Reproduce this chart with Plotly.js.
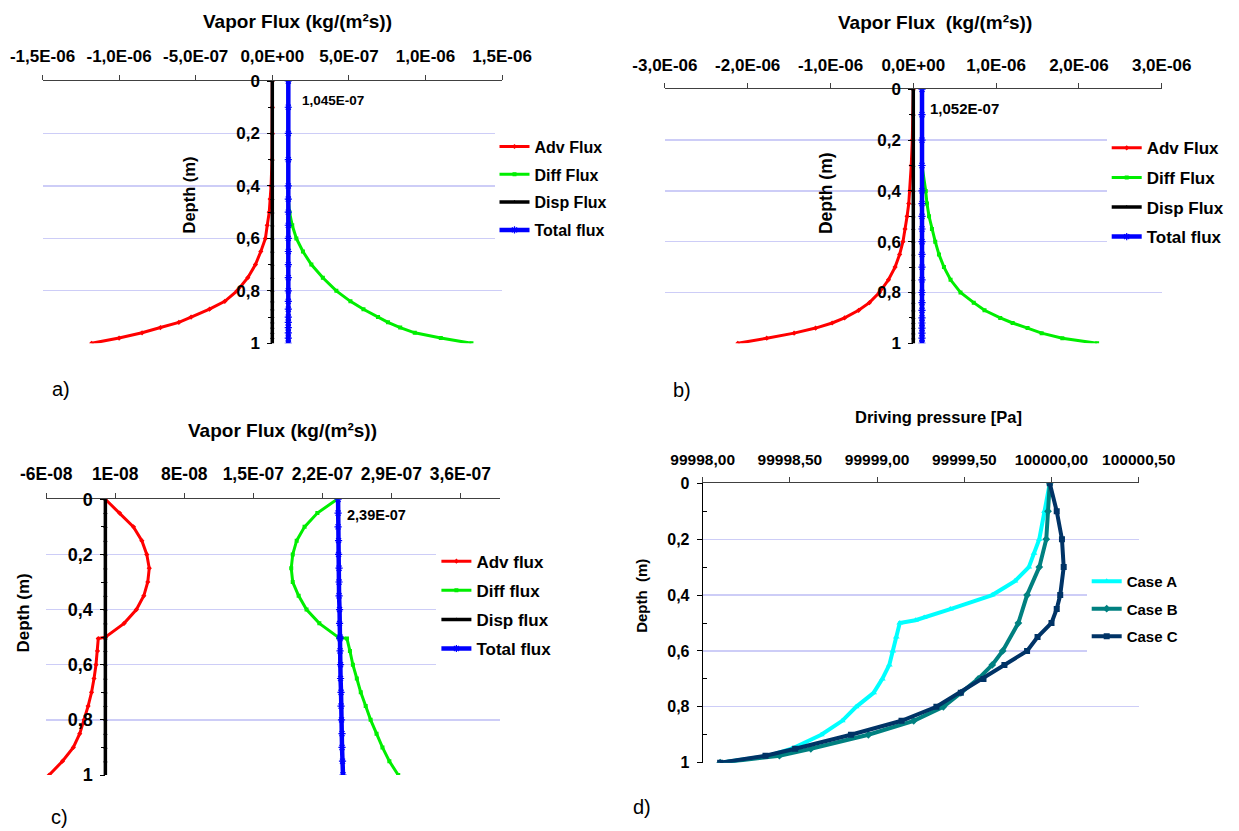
<!DOCTYPE html>
<html><head><meta charset="utf-8">
<script src="https://cdn.plot.ly/plotly-3.0.1.min.js"></script>
<style>html,body{margin:0;padding:0;background:#fff}</style>
</head><body>
<div id="chart" style="width:1239px;height:831px"></div>
<script>
// ---------- DATA ----------
// Panel a)
const depthA = [0, 0.1, 0.2, 0.3, 0.4, 0.45, 0.5, 0.55, 0.6, 0.65, 0.7, 0.75, 0.8, 0.84, 0.87, 0.9, 0.92, 0.94, 0.96, 0.98, 1.0];
const advA   = [0, 0, 0, -2e-9, -8e-9, -1.4e-8, -2e-8, -3.3e-8, -4.5e-8, -7.5e-8, -1.1e-7, -1.6e-7, -2.3e-7, -3.1e-7, -4.1e-7, -5.3e-7, -6.1e-7, -7.3e-7, -8.5e-7, -1.0e-6, -1.18e-6];
const diffA  = [1.045e-7, 1.045e-7, 1.045e-7, 1.045e-7, 1.045e-7, 1.045e-7, 1.12e-7, 1.3e-7, 1.57e-7, 2.0e-7, 2.55e-7, 3.3e-7, 4.18e-7, 5.1e-7, 5.95e-7, 6.9e-7, 7.55e-7, 8.35e-7, 9.3e-7, 1.10e-6, 1.30e-6];
const dispA  = [0, 0, 0, 0, 0, 0, 0, 0, 0, 0, 0, 0, 0, 0, 0, 0, 0, 0, 0, 0, 0];
const totalA = [1.045e-7, 1.045e-7, 1.045e-7, 1.045e-7, 1.045e-7, 1.045e-7, 1.045e-7, 1.045e-7, 1.045e-7, 1.045e-7, 1.045e-7, 1.045e-7, 1.045e-7, 1.045e-7, 1.045e-7, 1.045e-7, 1.045e-7, 1.045e-7, 1.045e-7, 1.045e-7, 1.045e-7];
const xTickValsA = [-1.5e-6, -1.0e-6, -5e-7, 0, 5e-7, 1.0e-6, 1.5e-6];
const xTickTextA = ['-1,5E-06', '-1,0E-06', '-5,0E-07', '0,0E+00', '5,0E-07', '1,0E-06', '1,5E-06'];

// Panel b)
const depthB = [0, 0.1, 0.2, 0.3, 0.4, 0.45, 0.5, 0.55, 0.6, 0.65, 0.7, 0.75, 0.8, 0.84, 0.87, 0.9, 0.92, 0.94, 0.96, 0.98, 1.0];
const advB   = [0, -5e-9, -1.2e-8, -2.5e-8, -4e-8, -5.5e-8, -7.5e-8, -1.0e-7, -1.25e-7, -1.65e-7, -2.2e-7, -3.0e-7, -4.1e-7, -5.3e-7, -6.6e-7, -8.3e-7, -9.8e-7, -1.18e-6, -1.44e-6, -1.77e-6, -2.12e-6];
const diffB  = [1.052e-7, 1.052e-7, 1.052e-7, 1.052e-7, 1.5e-7, 1.65e-7, 1.9e-7, 2.25e-7, 2.65e-7, 3.1e-7, 3.7e-7, 4.5e-7, 5.7e-7, 7.3e-7, 8.6e-7, 1.05e-6, 1.2e-6, 1.38e-6, 1.55e-6, 1.8e-6, 2.22e-6];
const dispB  = [0, 0, 0, 0, 0, 0, 0, 0, 0, 0, 0, 0, 0, 0, 0, 0, 0, 0, 0, 0, 0];
const totalB = [1.052e-7, 1.052e-7, 1.052e-7, 1.052e-7, 1.052e-7, 1.052e-7, 1.052e-7, 1.052e-7, 1.052e-7, 1.052e-7, 1.052e-7, 1.052e-7, 1.052e-7, 1.052e-7, 1.052e-7, 1.052e-7, 1.052e-7, 1.052e-7, 1.052e-7, 1.052e-7, 1.052e-7];
const xTickValsB = [-3e-6, -2e-6, -1e-6, 0, 1e-6, 2e-6, 3e-6];
const xTickTextB = ['-3,0E-06', '-2,0E-06', '-1,0E-06', '0,0E+00', '1,0E-06', '2,0E-06', '3,0E-06'];

// Panel c)
const depthC = [0, 0.05, 0.1, 0.15, 0.2, 0.25, 0.3, 0.35, 0.4, 0.45, 0.5, 0.505, 0.55, 0.6, 0.65, 0.7, 0.75, 0.8, 0.85, 0.9, 0.95, 1.0];
const advC   = [0, 1.45e-8, 2.85e-8, 3.7e-8, 4.2e-8, 4.45e-8, 4.3e-8, 3.9e-8, 3.15e-8, 1.9e-8, 0, -7.2e-9, -8.0e-9, -9.5e-9, -1.15e-8, -1.4e-8, -1.75e-8, -2.15e-8, -2.6e-8, -3.25e-8, -4.35e-8, -5.7e-8];
const diffC  = [2.35e-7, 2.15e-7, 2.02e-7, 1.94e-7, 1.9e-7, 1.885e-7, 1.9e-7, 1.96e-7, 2.04e-7, 2.17e-7, 2.36e-7, 2.45e-7, 2.48e-7, 2.51e-7, 2.55e-7, 2.59e-7, 2.64e-7, 2.69e-7, 2.75e-7, 2.81e-7, 2.88e-7, 2.97e-7];
const dispC  = [0, 0, 0, 0, 0, 0, 0, 0, 0, 0, 0, 0, 0, 0, 0, 0, 0, 0, 0, 0, 0, 0];
const totalC = [2.36e-7, 2.36e-7, 2.36e-7, 2.365e-7, 2.365e-7, 2.37e-7, 2.37e-7, 2.37e-7, 2.375e-7, 2.375e-7, 2.38e-7, 2.38e-7, 2.38e-7, 2.385e-7, 2.385e-7, 2.39e-7, 2.39e-7, 2.395e-7, 2.4e-7, 2.4e-7, 2.405e-7, 2.41e-7];
const xTickValsC = [-6e-8, 1e-8, 8e-8, 1.5e-7, 2.2e-7, 2.9e-7, 3.6e-7];
const xTickTextC = ['-6E-08', '1E-08', '8E-08', '1,5E-07', '2,2E-07', '2,9E-07', '3,6E-07'];

// Panel d)
const depthCaseA = [0, 0.1, 0.2, 0.25, 0.3, 0.35, 0.4, 0.45, 0.48, 0.49, 0.5, 0.55, 0.6, 0.65, 0.7, 0.75, 0.8, 0.85, 0.9, 0.95, 0.975, 1.0];
const caseA      = [99999.99, 99999.96, 99999.93, 99999.90, 99999.87, 99999.79, 99999.66, 99999.42, 99999.27, 99999.22, 99999.13, 99999.11, 99999.09, 99999.07, 99999.03, 99998.98, 99998.88, 99998.80, 99998.68, 99998.51, 99998.38, 99998.10];
const depthCaseB = [0, 0.1, 0.2, 0.3, 0.4, 0.5, 0.6, 0.65, 0.7, 0.75, 0.8, 0.85, 0.9, 0.95, 0.975, 1.0];
const caseB      = [99999.99, 99999.98, 99999.97, 99999.93, 99999.86, 99999.81, 99999.72, 99999.66, 99999.58, 99999.48, 99999.38, 99999.21, 99998.95, 99998.62, 99998.44, 99998.10];
const depthCaseC = [0, 0.1, 0.2, 0.3, 0.4, 0.45, 0.5, 0.55, 0.6, 0.65, 0.7, 0.75, 0.8, 0.85, 0.9, 0.95, 0.975, 1.0];
const caseC      = [99999.99, 100000.03, 100000.06, 100000.07, 100000.05, 100000.03, 100000.00, 99999.92, 99999.86, 99999.73, 99999.61, 99999.48, 99999.34, 99999.14, 99998.85, 99998.53, 99998.36, 99998.10];
const xTickValsD = [99998.0, 99998.5, 99999.0, 99999.5, 100000.0, 100000.5];
const xTickTextD = ['99998,00', '99998,50', '99999,00', '99999,50', '100000,00', '100000,50'];

const depthTickVals = [0, 0.2, 0.4, 0.6, 0.8, 1];
const depthTickText = ['0', '0,2', '0,4', '0,6', '0,8', '1'];
const depthMinorVals = [0.1, 0.3, 0.5, 0.7, 0.9];

const fluxNames1 = ['Adv Flux', 'Diff Flux', 'Disp Flux', 'Total flux'];
const fluxNames2 = ['Adv flux', 'Diff flux', 'Disp flux', 'Total flux'];
const caseNames  = ['Case A', 'Case B', 'Case C'];

// ---------- STYLE / LAYOUT ----------
const W = 1239, H = 831;
const FONT = 'Liberation Sans, Arial, Helvetica, sans-serif';
const GRID = '#cdcdf7';
const AXC = '#404040';

const fluxColors = ['#ff0000', '#00ee00', '#000000', '#0000ff'];
const fluxSymbols = ['diamond', 'square', 'triangle-up', 'asterisk-open'];
const fluxWidths = [3, 3, 3.5, 4.5];
const caseColors = ['#00ffff', '#008080', '#003366'];
const caseSymbols = ['triangle-up', 'diamond', 'square'];

const xdom = (l, r) => [l / W, r / W];
const ydom = (t, b) => [1 - b / H, 1 - t / H];

function fluxTraces(depth, series, names, ax, leg) {
  return series.map((s, i) => ({
    type: 'scatter', mode: 'lines+markers', x: s, y: depth, name: names[i],
    xaxis: 'x' + ax, yaxis: 'y' + ax, legend: leg, legendgroup: leg + i,
    line: {color: fluxColors[i], width: fluxWidths[i]},
    marker: {color: fluxColors[i], symbol: fluxSymbols[i], size: i === 3 ? 6 : 4,
             line: {color: fluxColors[i], width: i === 3 ? 1.2 : 0}},
    hoverinfo: 'skip'
  }));
}

const traces = [
  ...fluxTraces(depthA, [advA, diffA, dispA, totalA], fluxNames1, '', 'legend'),
  ...fluxTraces(depthB, [advB, diffB, dispB, totalB], fluxNames1, '2', 'legend2'),
  ...fluxTraces(depthC, [advC, diffC, dispC, totalC], fluxNames2, '3', 'legend3'),
  ...[[caseA, depthCaseA], [caseB, depthCaseB], [caseC, depthCaseC]].map((p, i) => ({
    type: 'scatter', mode: 'lines+markers', x: p[0], y: p[1], name: caseNames[i],
    xaxis: 'x4', yaxis: 'y4', legend: 'legend4', legendgroup: 'd' + i,
    line: {color: caseColors[i], width: 4},
    marker: {color: caseColors[i], symbol: caseSymbols[i], size: 6},
    hoverinfo: 'skip'
  }))
];

function xAx(domain, range, vals, text, anchor, fs) {
  return {domain, range, side: 'top', anchor, tickmode: 'array', tickvals: vals, ticktext: text,
    ticks: 'outside', ticklen: 5, tickcolor: AXC, showline: true, linecolor: AXC, linewidth: 1,
    showgrid: false, zeroline: false, ticklabelstandoff: 6,
    tickfont: {family: FONT, size: fs, color: '#000', weight: 'bold'}};
}
function yAx(domain, anchor, position, fs, minorTicks) {
  const a = {domain, range: [1, 0], tickmode: 'array', tickvals: depthTickVals, ticktext: depthTickText,
    ticks: 'outside', ticklen: 5, tickcolor: '#000', showline: true, linecolor: '#000', linewidth: 1,
    showgrid: true, gridcolor: GRID, gridwidth: 1.3, zeroline: false, ticklabelstandoff: 4,
    tickfont: {family: FONT, size: fs, color: '#000', weight: 'bold'},
    minor: {tickmode: 'array', tickvals: depthMinorVals, ticks: minorTicks, ticklen: 4, tickcolor: '#000', showgrid: false}};
  if (anchor === 'free') { a.anchor = 'free'; a.position = position; } else { a.anchor = anchor; }
  return a;
}
// y axis crossing at x = 0
function zeroPos(dom, range) { return dom[0] + (0 - range[0]) / (range[1] - range[0]) * (dom[1] - dom[0]); }

const rA = [-1.5e-6, 1.5e-6], rB = [-3e-6, 3e-6], rC = [-6e-8, 4e-7], rD = [99998, 100000.5];
const dxA = xdom(42.5, 502.1), dyA = ydom(81, 343.3);
const dxB = xdom(664.9, 1161.7), dyB = ydom(89.3, 343.3);
const dxC = xdom(46.2, 499.8), dyC = ydom(499.3, 775);
const dxD = xdom(702.7, 1138.7), dyD = ydom(483.3, 762.7);

function ann(text, px, py, font, extra) {
  return Object.assign({text, x: px / W, y: 1 - py / H, xref: 'paper', yref: 'paper',
    showarrow: false, xanchor: 'center', yanchor: 'middle', font}, extra || {});
}
const bold = (size) => ({family: FONT, size, color: '#000', weight: 'bold'});
const plain = (size) => ({family: FONT, size, color: '#000'});

function legendCfg(textX, firstY, fs, gap) {
  return {x: (textX - 40) / W, y: 1 - (firstY - fs * 0.65 - 7) / H, xanchor: 'left', yanchor: 'top',
    bgcolor: '#ffffff', borderwidth: 0, tracegroupgap: gap,
    font: {family: FONT, size: fs, color: '#000', weight: 'bold'}};
}

const layout = {
  width: W, height: H, margin: {l: 0, r: 0, t: 0, b: 0},
  paper_bgcolor: '#fff', plot_bgcolor: 'rgba(0,0,0,0)', showlegend: true,
  xaxis:  xAx(dxA, rA, xTickValsA, xTickTextA, 'y', 17),
  yaxis:  yAx(dyA, 'free', zeroPos(dxA, rA), 17, 'outside'),
  xaxis2: xAx(dxB, rB, xTickValsB, xTickTextB, 'y2', 17),
  yaxis2: yAx(dyB, 'free', zeroPos(dxB, rB), 17, 'outside'),
  xaxis3: xAx(dxC, rC, xTickValsC, xTickTextC, 'y3', 17.5),
  yaxis3: yAx(dyC, 'free', zeroPos(dxC, rC), 18, 'outside'),
  xaxis4: xAx(dxD, rD, xTickValsD, xTickTextD, 'y4', 15.5),
  yaxis4: yAx(dyD, 'x4', null, 16, 'inside'),
  legend:  legendCfg(534.5, 147, 16, 4),
  legend2: legendCfg(1146.7, 148.3, 17, 4.5),
  legend3: legendCfg(476.4, 561.7, 17, 4),
  legend4: legendCfg(1126.7, 581.7, 15, 5),
  annotations: [
    ann('Vapor Flux (kg/(m²s))', 297.2, 21.7, bold(19)),
    ann('Vapor Flux  (kg/(m²s))', 935.3, 22.7, bold(19)),
    ann('Vapor Flux (kg/(m²s))', 282.4, 430, bold(19)),
    ann('Driving pressure [Pa]', 938, 417.3, bold(16.5)),
    ann('Depth (m)', 188.5, 195, bold(16.5), {textangle: -90}),
    ann('Depth (m)', 825.8, 193.3, bold(17.5), {textangle: -90}),
    ann('Depth (m)', 22.6, 613, bold(17), {textangle: -90}),
    ann('Depth  (m)', 640.8, 596, bold(15), {textangle: -90}),
    ann('1,045E-07', 300, 101, bold(13.5), {xanchor: 'left'}),
    ann('1,052E-07', 928, 109, bold(15), {xanchor: 'left'}),
    ann('2,39E-07', 344.6, 515, bold(14.5), {xanchor: 'left'}),
    ann('a)', 61, 389, plain(20)),
    ann('b)', 682, 390, plain(20)),
    ann('c)', 59, 817, plain(20)),
    ann('d)', 641.5, 807, plain(20))
  ]
};

Plotly.newPlot('chart', traces, layout, {displayModeBar: false, staticPlot: true});
</script>
</body></html>
